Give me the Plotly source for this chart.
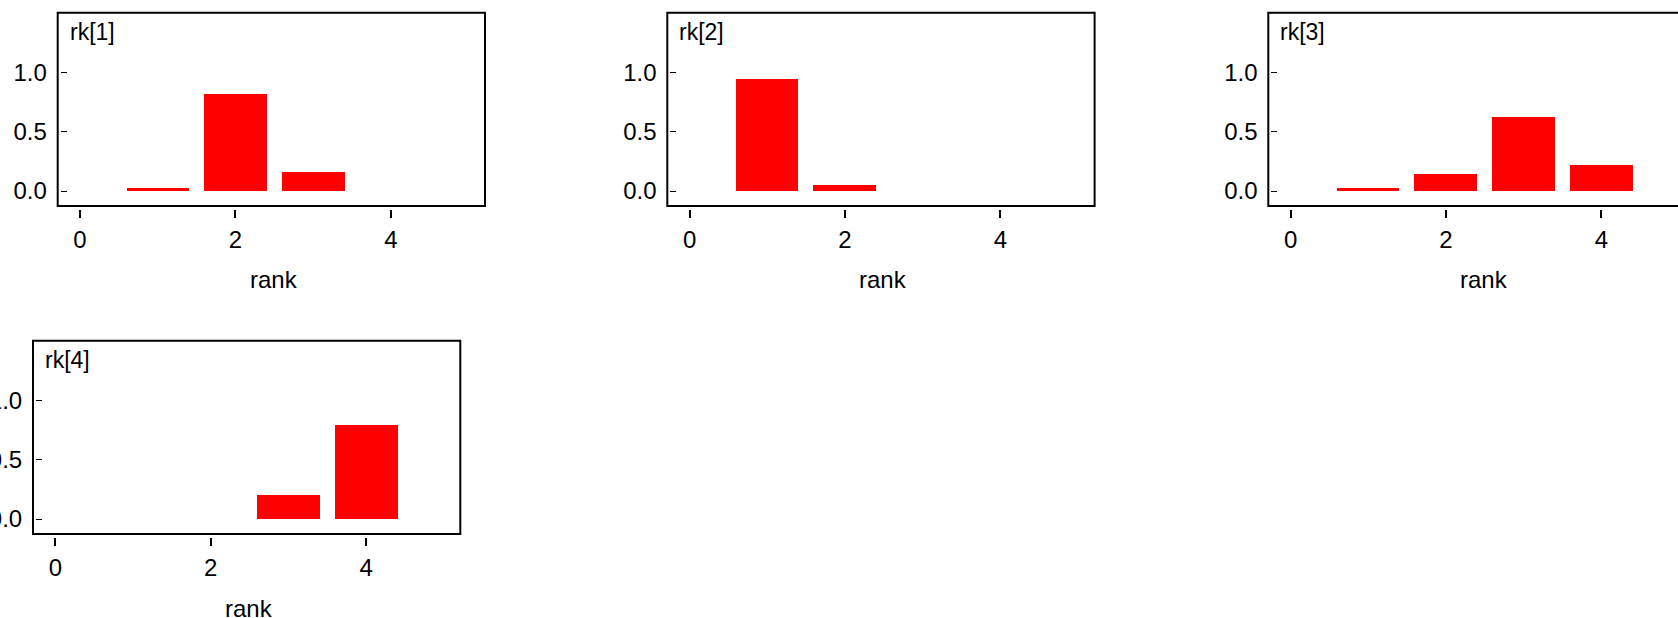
import plotly.graph_objects as go

W, H = 1678, 618

# ---- data ----
ranks = [1, 2, 3, 4]
rk1 = [0.025, 0.817, 0.160, 0.0]
rk2 = [0.944, 0.050, 0.0, 0.0]
rk3 = [0.025, 0.143, 0.623, 0.219]
rk4 = [0.0, 0.0, 0.205, 0.797]
series = [rk1, rk2, rk3, rk4]
panel_labels = ["rk[1]", "rk[2]", "rk[3]", "rk[4]"]
x_title = "rank"
x_tickvals = [0, 2, 4]
y_tickvals = [0.0, 0.5, 1.0]
y_ticktext = ["0.0", "0.5", "1.0"]

# ---- layout (pixel boxes: left, top) ----
BOX_W, BOX_H = 427.3, 193.3
panels = [(57.7, 12.7), (667.3, 12.7), (1268.3, 12.7), (33.0, 340.7)]
PX_PER_X = 77.7
X0_OFF = 22.3
YMIN, YMAX = -0.126, 1.502

FONT = "Liberation Sans, Arial, sans-serif"

fig = go.Figure()
shapes = []
annotations = []

def px(x):
    return x / W

def py(y):
    return 1 - y / H

for i, (vals, (L, T)) in enumerate(zip(series, panels)):
    n = i + 1
    xa = "x" if n == 1 else f"x{n}"
    ya = "y" if n == 1 else f"y{n}"
    R = L + BOX_W
    B = T + BOX_H
    Rclip = min(R, W)
    xmin = -X0_OFF / PX_PER_X
    xmax = xmin + (Rclip - L) / PX_PER_X

    fig.add_trace(go.Bar(
        x=ranks, y=vals, width=0.81,
        marker=dict(color="#ff0000", line=dict(width=0)),
        xaxis=xa, yaxis=ya, showlegend=False, hoverinfo="skip",
    ))

    xkey = "xaxis" if n == 1 else f"xaxis{n}"
    ykey = "yaxis" if n == 1 else f"yaxis{n}"
    fig.update_layout(**{
        xkey: dict(
            domain=[px(L), px(Rclip)], range=[xmin, xmax],
            anchor="free", position=py(B + 3),
            showline=False, showgrid=False, zeroline=False,
            ticks="outside", ticklen=8, tickwidth=2, tickcolor="black",
            tickvals=x_tickvals, ticktext=[str(v) for v in x_tickvals],
            tickfont=dict(family=FONT, size=24, color="black"),
            ticklabelstandoff=1,
            automargin=False, fixedrange=True,
        ),
        ykey: dict(
            domain=[py(B), py(T)], range=[YMIN, YMAX],
            anchor="free", position=px(L + 9),
            showline=False, showgrid=False, zeroline=False,
            ticks="outside", ticklen=6, tickwidth=1, tickcolor="black",
            tickvals=y_tickvals, ticktext=y_ticktext,
            tickfont=dict(family=FONT, size=24, color="black"),
            ticklabelstandoff=9,
            automargin=False, fixedrange=True,
        ),
    })

    shapes.append(dict(
        type="rect", xref="paper", yref="paper",
        x0=px(L), x1=px(R), y0=py(B), y1=py(T),
        line=dict(color="black", width=2), fillcolor="rgba(0,0,0,0)",
        layer="above",
    ))
    annotations.append(dict(
        text=panel_labels[i], xref="paper", yref="paper",
        x=px(L + 10), y=py(T + 19.5), xanchor="left", yanchor="middle",
        showarrow=False, font=dict(family=FONT, size=23, color="black"),
    ))
    annotations.append(dict(
        text=x_title, xref="paper", yref="paper",
        x=px(L + BOX_W / 2 + 2.5), y=py(B + 74), xanchor="center", yanchor="middle",
        showarrow=False, font=dict(family=FONT, size=24, color="black"),
    ))

fig.update_layout(
    width=W, height=H,
    margin=dict(l=0, r=0, t=0, b=0, pad=0),
    paper_bgcolor="white", plot_bgcolor="white",
    shapes=shapes, annotations=annotations,
    bargap=0, showlegend=False,
)

fig.write_html(
    "out.html",
    config={"displayModeBar": False},
    post_script="document.body.style.margin='0';document.body.style.overflow='hidden';",
)
